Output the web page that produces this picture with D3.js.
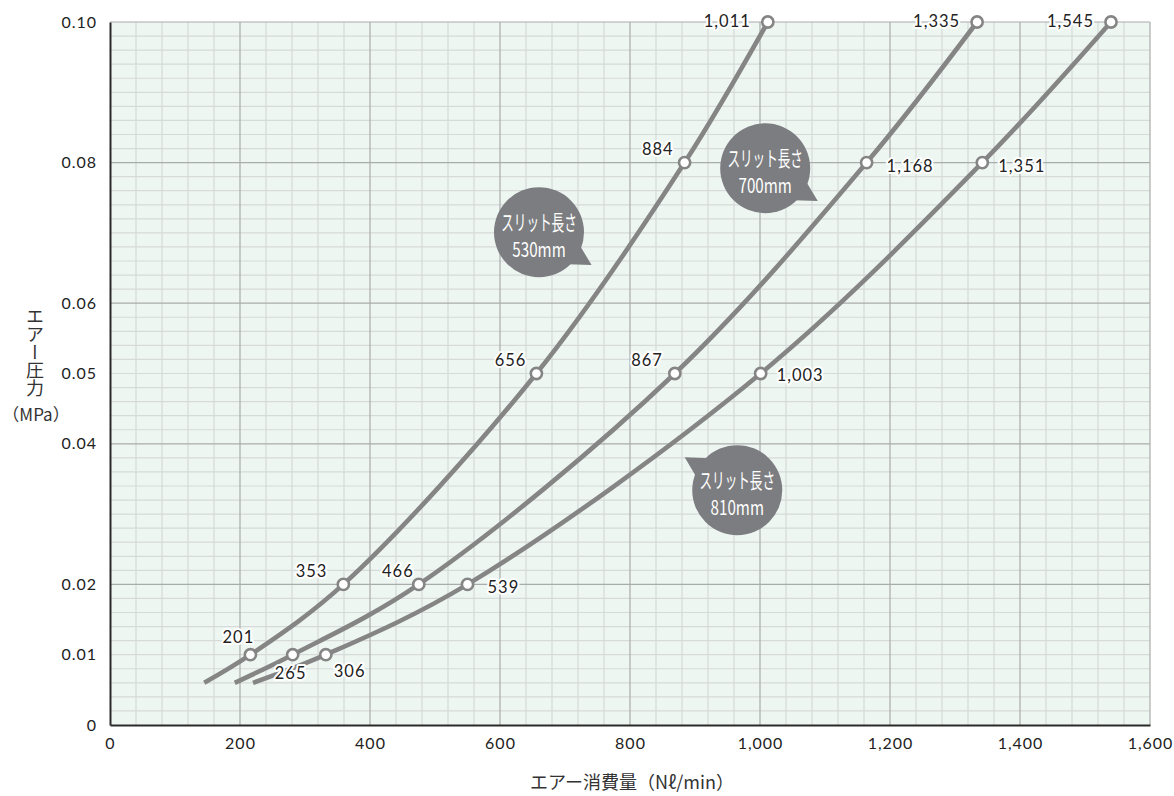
<!DOCTYPE html>
<html>
<head>
<meta charset="utf-8">
<script src="https://cdn.jsdelivr.net/npm/d3@7"></script>
<style>
  body { margin: 0; background: #fff; }
  text { font-family: Lato, "Noto Sans CJK JP", sans-serif; }
</style>
</head>
<body>
<script>
// air pressure (MPa) vs air consumption (Nl/min), three slit lengths
const seriesNames = ["530mm", "700mm", "810mm"];
const pressures = [0.01, 0.02, 0.05, 0.08, 0.10];
// x of each marker
const flow530 = [216, 359, 656, 884, 1012];
const flow700 = [281, 475, 869, 1164, 1334];
const flow810 = [332, 550, 1001, 1342, 1540];
// printed labels next to the markers
const labels530 = ["201", "353", "656", "884", "1,011"];
const labels700 = ["265", "466", "867", "1,168", "1,335"];
const labels810 = ["306", "539", "1,003", "1,351", "1,545"];
// where each curve begins (below the first marker)
const startFlow = [145, 192, 220];
const startPressure = [0.006, 0.006, 0.006];
const yTickValues = [0, 0.01, 0.02, 0.04, 0.05, 0.06, 0.08, 0.10];
const xTickValues = [0, 200, 400, 600, 800, 1000, 1200, 1400, 1600];

const W = 1174, H = 796;
const x = d3.scaleLinear().domain([0, 1600]).range([110, 1150]);
const y = d3.scaleLinear().domain([0, 0.1]).range([725, 22]);

const svg = d3.select("body").append("svg")
    .attr("width", W)
    .attr("height", H);

// plot background
svg.append("rect")
    .attr("x", x(0)).attr("y", y(0.1))
    .attr("width", x(1600) - x(0))
    .attr("height", y(0) - y(0.1))
    .attr("fill", "#eef6f2");

// minor grid
svg.append("g").selectAll("line")
    .data(d3.range(40, 1600, 40).filter(d => d % 200 !== 0))
    .join("line")
        .attr("x1", d => x(d)).attr("x2", d => x(d))
        .attr("y1", y(0)).attr("y2", y(0.1))
        .attr("stroke", "#d6dad9").attr("stroke-width", 1.2);
svg.append("g").selectAll("line")
    .data(d3.range(1, 50).filter(d => d % 10 !== 0))
    .join("line")
        .attr("x1", x(0)).attr("x2", x(1600))
        .attr("y1", d => y(d * 0.002)).attr("y2", d => y(d * 0.002))
        .attr("stroke", "#d6dad9").attr("stroke-width", 1.2);

// major grid
svg.append("g").selectAll("line")
    .data(d3.range(200, 1601, 200))
    .join("line")
        .attr("x1", d => x(d)).attr("x2", d => x(d))
        .attr("y1", y(0)).attr("y2", y(0.1))
        .attr("stroke", "#a9acac").attr("stroke-width", 1.2);
svg.append("g").selectAll("line")
    .data([2, 4, 6, 8, 10])
    .join("line")
        .attr("x1", x(0)).attr("x2", x(1600))
        .attr("y1", d => y(d / 100)).attr("y2", d => y(d / 100))
        .attr("stroke", "#a9acac").attr("stroke-width", 1.2);

// axes
let yAxis = svg.append("g")
    .attr("transform", "translate(" + x(0) + ",0)")
    .call(d3.axisLeft(y)
        .tickValues(yTickValues)
        .tickFormat(d => d === 0 ? "0" : d3.format(".2f")(d))
        .tickSize(0)
        .tickPadding(13));
let xAxis = svg.append("g")
    .attr("transform", "translate(0," + y(0) + ")")
    .call(d3.axisBottom(x)
        .tickValues(xTickValues)
        .tickFormat(d3.format(","))
        .tickSize(0)
        .tickPadding(13));
[yAxis, xAxis].forEach(function(a) {
    a.select(".domain").attr("stroke", "#2a2a2a").attr("stroke-width", 2);
    a.selectAll("text")
        .style("font-family", "Lato")
        .style("font-size", "16px")
        .style("letter-spacing", "1px")
        .attr("fill", "#222");
});

// axis titles
svg.append("text")
    .text("エアー圧力")
    .attr("x", 35).attr("y", 307)
    .style("writing-mode", "vertical-rl")
    .style("text-orientation", "upright")
    .style("font-family", "'Noto Sans CJK JP'")
    .style("font-size", "18px")
    .attr("fill", "#333");
svg.append("text")
    .text("（MPa）")
    .attr("x", 36).attr("y", 421)
    .attr("text-anchor", "middle")
    .style("font-family", "'Noto Sans CJK JP'")
    .style("font-size", "17px")
    .attr("fill", "#333");
svg.append("text")
    .text("エアー消費量（Nℓ/min）")
    .attr("x", 632).attr("y", 789)
    .attr("text-anchor", "middle")
    .style("font-family", "'Noto Sans CJK JP'")
    .style("font-size", "18px")
    .attr("fill", "#333");

// build series
const flows = [flow530, flow700, flow810];
const labelSets = [labels530, labels700, labels810];
const series = seriesNames.map(function(name, i) {
    let pts = [{flow: startFlow[i], p: startPressure[i]}];
    flows[i].forEach(function(f, j) {
        pts.push({flow: f, p: pressures[j], label: labelSets[i][j]});
    });
    return {name: name, points: pts};
});

const line = d3.line()
    .x(d => x(d.flow))
    .y(d => y(d.p))
    .curve(d3.curveCatmullRom.alpha(0.5));

svg.append("g").selectAll("path")
    .data(series)
    .join("path")
        .attr("d", d => line(d.points))
        .attr("fill", "none")
        .attr("stroke", "#858585")
        .attr("stroke-width", 4.6);

// label placement for each marker: [dx, dy, anchor]
const place = [
    [[-12, -12, "middle"], [-16, -7, "end"], [-10, -8, "end"], [-11, -8, "end"], [-17, 5, "end"]],
    [[-2, 24, "middle"], [-5, -7, "end"], [-12, -8, "end"], [20, 9, "start"], [-17, 5, "end"]],
    [[8, 22, "start"], [20, 9, "start"], [16, 7, "start"], [16, 9, "start"], [-17, 5, "end"]]
];

series.forEach(function(s, i) {
    let marks = s.points.filter(d => d.label);
    let g = svg.append("g");
    g.selectAll("text")
        .data(marks)
        .join("text")
            .text(d => d.label)
            .attr("x", (d, j) => x(d.flow) + place[i][j][0])
            .attr("y", (d, j) => y(d.p) + place[i][j][1])
            .attr("text-anchor", (d, j) => place[i][j][2])
            .style("font-size", "16.5px")
            .style("letter-spacing", "1px")
            .attr("fill", "#222")
            .attr("stroke", "#fff")
            .attr("stroke-width", 4)
            .attr("stroke-linejoin", "round")
            .style("paint-order", "stroke");
    g.selectAll("circle")
        .data(marks)
        .join("circle")
            .attr("cx", d => x(d.flow))
            .attr("cy", d => y(d.p))
            .attr("r", 5.6)
            .attr("fill", "#fff")
            .attr("stroke", "#858585")
            .attr("stroke-width", 2.6);
});

// speech bubbles naming each curve (centre in data units, tail angle in degrees)
const bubbles = [
    {name: "530mm", flow: 660, p: 0.0701, tail: 32},
    {name: "700mm", flow: 1008, p: 0.0792, tail: 32},
    {name: "810mm", flow: 965, p: 0.0334, tail: 212}
];
const R = 45;
bubbles.forEach(function(b) {
    let cx = x(b.flow), cy = y(b.p);
    let g = svg.append("g").attr("transform", "translate(" + cx + "," + cy + ")");
    let rad = a => a * Math.PI / 180;
    let a1 = rad(b.tail - 14), a2 = rad(b.tail + 16), at = rad(b.tail);
    g.append("path")
        .attr("d", "M" + (R - 2) * Math.cos(a1) + "," + (R - 2) * Math.sin(a1) +
            "L" + 62 * Math.cos(at) + "," + 62 * Math.sin(at) +
            "L" + (R - 2) * Math.cos(a2) + "," + (R - 2) * Math.sin(a2) + "Z")
        .attr("fill", "#7c7d80");
    g.append("circle").attr("r", R).attr("fill", "#7c7d80");
    g.append("text")
        .text("スリット長さ")
        .attr("transform", "translate(0,-2) scale(0.6,1)")
        .attr("text-anchor", "middle")
        .style("font-family", "'Noto Sans CJK JP'")
        .style("font-size", "21px")
        .attr("fill", "#fff");
    g.append("text")
        .text(b.name)
        .attr("transform", "translate(0,25) scale(0.76,1)")
        .attr("text-anchor", "middle")
        .style("font-family", "'Noto Sans CJK JP'")
        .style("font-size", "20px")
        .attr("fill", "#fff");
});
</script>
</body>
</html>
